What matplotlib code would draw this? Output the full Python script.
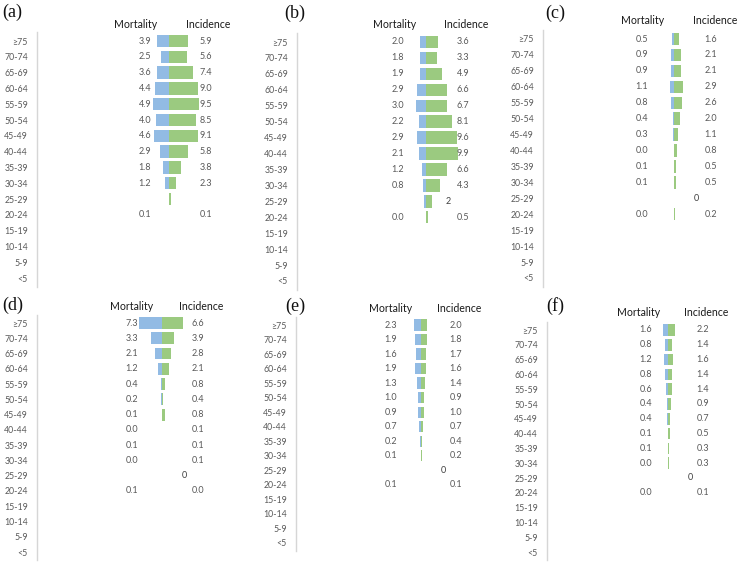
import matplotlib
matplotlib.use("Agg")
import matplotlib.pyplot as plt

# ---------------- data ----------------
ages = ['≥75', '70-74', '65-69', '60-64', '55-59', '50-54', '45-49', '40-44',
        '35-39', '30-34', '25-29', '20-24', '15-19', '10-14', '5-9', '<5']

a_mort = [3.9, 2.5, 3.6, 4.4, 4.9, 4.0, 4.6, 2.9, 1.8, 1.2, 0.1, 0.1, 0.0, 0, 0, 0]
a_inc = [5.9, 5.6, 7.4, 9.0, 9.5, 8.5, 9.1, 5.8, 3.8, 2.3, 0.5, 0.1, 0.05, 0, 0, 0]

b_mort = [2.0, 1.8, 1.9, 2.9, 3.0, 2.2, 2.9, 2.1, 1.2, 0.8, 0.5, 0.0, 0.1, 0.02, 0.02, 0]
b_inc = [3.6, 3.3, 4.9, 6.6, 6.7, 8.1, 9.6, 9.9, 6.6, 4.3, 2.0, 0.5, 0, 0.02, 0.02, 0]

c_mort = [0.5, 0.9, 0.9, 1.1, 0.8, 0.4, 0.3, 0.0, 0.1, 0.1, 0.0, 0.0, 0.0, 0, 0, 0]
c_inc = [1.6, 2.1, 2.1, 2.9, 2.6, 2.0, 1.1, 0.8, 0.5, 0.5, 0.1, 0.2, 0.05, 0, 0, 0]

d_mort = [7.3, 3.3, 2.1, 1.2, 0.4, 0.2, 0.1, 0.0, 0.1, 0.0, 0, 0.1, 0, 0, 0, 0.02]
d_inc = [6.6, 3.9, 2.8, 2.1, 0.8, 0.4, 0.8, 0.1, 0.1, 0.1, 0, 0.0, 0, 0, 0, 0.02]

e_mort = [2.3, 1.9, 1.6, 1.9, 1.3, 1.0, 0.9, 0.7, 0.2, 0.1, 0.1, 0.1, 0, 0.05, 0.05, 0.05]
e_inc = [2.0, 1.8, 1.7, 1.6, 1.4, 0.9, 1.0, 0.7, 0.4, 0.2, 0, 0.1, 0, 0, 0, 0]

f_mort = [1.6, 0.8, 1.2, 0.8, 0.6, 0.4, 0.4, 0.1, 0.1, 0.0, 0, 0.0, 0, 0, 0, 0]
f_inc = [2.2, 1.4, 1.6, 1.4, 1.4, 0.9, 0.7, 0.5, 0.3, 0.3, 0.05, 0.1, 0.05, 0, 0, 0]

# rows that carry printed value labels
labeled_rows = [0, 1, 2, 3, 4, 5, 6, 7, 8, 9, 11]
# odd single label printed for the 25-29 row
row25_labels = [None, '2', '0', '0', '0', '0']

panel_names = ['(a)', '(b)', '(c)', '(d)', '(e)', '(f)']
morts = [a_mort, b_mort, c_mort, d_mort, e_mort, f_mort]
incs = [a_inc, b_inc, c_inc, d_inc, e_inc, f_inc]

# ---------------- layout (pixels) ----------------
W, H = 739, 565
SCALE = 3.2  # px per unit
layout = [
    dict(ax=37, c=169, top=41, bot=278, mx=145, ix=206, hy=24, hmx=136, hix=208, lx=12, ly=12),
    dict(ax=297, c=426, top=42, bot=281, mx=398, ix=463, hy=25, hmx=395, hix=466, lx=295, ly=13),
    dict(ax=543, c=674, top=39, bot=278, mx=642, ix=711, hy=21, hmx=643, hix=715, lx=555, ly=13),
    dict(ax=37, c=162, top=323, bot=552, mx=132, ix=198, hy=307, hmx=132, hix=201, lx=13, ly=305),
    dict(ax=296, c=421, top=325, bot=543, mx=391, ix=456, hy=308, hmx=391, hix=459, lx=295, ly=306),
    dict(ax=547, c=668, top=330, bot=552, mx=646, ix=703, hy=313, hmx=639, hix=706, lx=555, ly=306),
]

BLUE = '#92BBE4'
GREEN = '#9BCA80'
SANS = ['Lato', 'DejaVu Sans']
SERIF = ['Liberation Serif', 'DejaVu Serif']

fig = plt.figure(figsize=(W / 100, H / 100), dpi=100)
fig.patch.set_facecolor('white')

for k in range(6):
    L = layout[k]
    sp = (L['bot'] - L['top']) / 15.0
    top_px = L['top'] - 0.55 * sp
    bot_px = L['bot'] + 0.55 * sp
    width_px = 190
    ax = fig.add_axes([L['ax'] / W, 1 - bot_px / H, width_px / W, (bot_px - top_px) / H])
    ax.set_xlim((0 - (L['c'] - L['ax'])) / SCALE, (width_px - (L['c'] - L['ax'])) / SCALE)
    ax.set_ylim(15.55, -0.55)
    ypos = list(range(len(ages)))
    ax.barh(ypos, [-v for v in morts[k]], height=0.78, color=BLUE, linewidth=0)
    ax.barh(ypos, incs[k], height=0.78, color=GREEN, linewidth=0)

    for sname in ['top', 'right', 'bottom']:
        ax.spines[sname].set_visible(False)
    ax.spines['left'].set_color('#D6D6D6')
    ax.spines['left'].set_linewidth(1.0)
    ax.set_xticks([])
    ax.set_yticks(ypos)
    ax.set_yticklabels(ages, fontsize=6.3, color='#595959', family=SANS)
    ax.tick_params(axis='y', length=0, pad=6.5)
    ax.set_facecolor('none')

    mx = (L['mx'] - L['c']) / SCALE
    ix = (L['ix'] - L['c']) / SCALE
    for i in labeled_rows:
        ax.text(mx, i, f"{morts[k][i]:.1f}", ha='center', va='center',
                fontsize=6.5, color='#595959', family=SANS)
        ax.text(ix, i, f"{incs[k][i]:.1f}", ha='center', va='center',
                fontsize=6.5, color='#595959', family=SANS)
    if row25_labels[k] is not None:
        ax.text(22 / SCALE, 10, row25_labels[k], ha='center', va='center',
                fontsize=6.5, color='#404040', family=SANS)

    fig.text(L['hmx'] / W, 1 - L['hy'] / H, 'Mortality', ha='center', va='center',
             fontsize=7.6, color='#1a1a1a', family=SANS)
    fig.text(L['hix'] / W, 1 - L['hy'] / H, 'Incidence', ha='center', va='center',
             fontsize=7.6, color='#1a1a1a', family=SANS)
    fig.text(L['lx'] / W, 1 - L['ly'] / H, panel_names[k], ha='center', va='center',
             fontsize=13, color='#111111', family=SERIF)

fig.savefig('out.png', dpi=100, facecolor='white')
